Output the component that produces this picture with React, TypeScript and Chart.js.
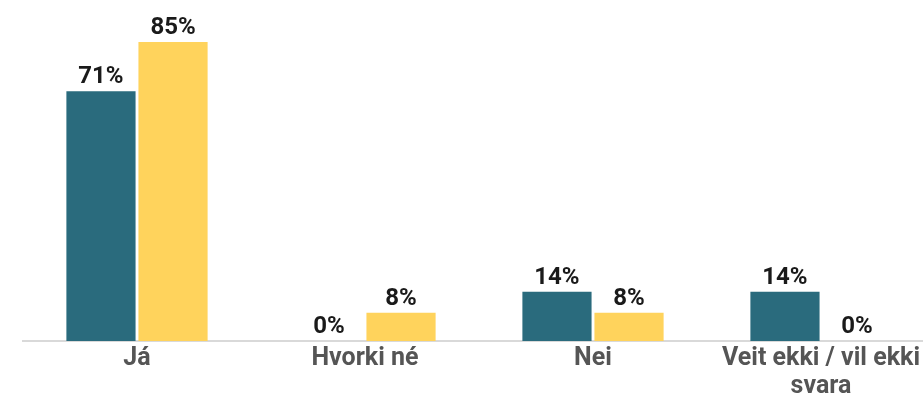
import React, { useEffect, useRef } from "react";
import { Chart, registerables } from "chart.js";

Chart.register(...registerables);

const categories: (string | string[])[] = ["Já", "Hvorki né", "Nei", ["Veit ekki / vil ekki", "svara"]];
const seriesA = [71, 0, 14, 14];
const seriesB = [85, 8, 8, 0];
const seriesNames = ["Hópur 1", "Hópur 2"];

const valueLabels = {
  id: "valueLabels",
  afterDatasetsDraw(chart: any) {
    const ctx = chart.ctx;
    ctx.save();
    ctx.font = "bold 24px Roboto";
    ctx.fillStyle = "#1a1a1a";
    ctx.textAlign = "center";
    ctx.textBaseline = "alphabetic";
    chart.data.datasets.forEach((ds: any, i: number) => {
      const meta = chart.getDatasetMeta(i);
      meta.data.forEach((el: any, j: number) => {
        ctx.fillText(ds.data[j] + "%", el.x, el.y - 8);
      });
    });
    ctx.restore();
  },
};

export default function App() {
  const ref = useRef<HTMLCanvasElement>(null);
  useEffect(() => {
    if (!ref.current) return;
    const chart = new Chart(ref.current, {
      type: "bar",
      data: {
        labels: categories,
        datasets: [
          { label: seriesNames[0], data: seriesA, backgroundColor: "#2a6b7d" },
          { label: seriesNames[1], data: seriesB, backgroundColor: "#ffd35c" },
        ],
      },
      options: {
        responsive: false,
        animation: false,
        maintainAspectRatio: false,
        layout: { padding: { left: 23, right: 25, top: 0, bottom: 0 } },
        datasets: { bar: { categoryPercentage: 0.632, barPercentage: 0.96 } },
        plugins: { legend: { display: false }, tooltip: { enabled: false } },
        scales: {
          x: {
            grid: { display: false, drawTicks: false },
            border: { display: true, color: "#d9d9d9", width: 2 },
            ticks: {
              color: "#555555",
              font: { family: "Roboto", size: 25, weight: "bold", lineHeight: 1.15 },
              padding: 3,
              maxRotation: 0,
              autoSkip: false,
            },
            afterFit: (scale: any) => {
              scale.height = 65;
            },
          },
          y: {
            display: false,
            min: 0,
            max: 96.9,
          },
        },
      },
      plugins: [valueLabels],
    } as any);
    return () => chart.destroy();
  }, []);
  return (
    <div style={{ position: "fixed", left: 0, top: 0, width: 923, height: 406, overflow: "hidden", background: "#fff" }}>
      <canvas ref={ref} width={960} height={406} style={{ display: "block" }} />
    </div>
  );
}
